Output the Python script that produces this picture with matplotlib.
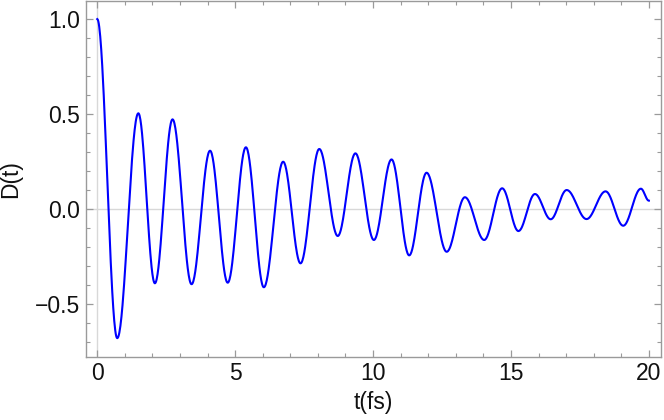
import matplotlib
matplotlib.use("Agg")
import matplotlib.pyplot as plt
import numpy as np
from matplotlib.ticker import MultipleLocator

plt.rcParams.update({"font.family": ["Liberation Sans", "DejaVu Sans"]})

# turning points of D(t) (t in fs), plus the end point
t_ext = [0.00, 0.725, 1.49, 2.09, 2.73, 3.42, 4.09, 4.73, 5.39, 6.04,
         6.74, 7.37, 8.05, 8.72, 9.36, 10.03, 10.67, 11.31, 11.94, 12.67,
         13.33, 14.03, 14.68, 15.27, 15.87, 16.44, 17.02, 17.74, 18.43,
         19.07, 19.71, 20.00]
d_ext = [1.000, -0.680, 0.504, -0.391, 0.472, -0.396, 0.307, -0.388,
         0.325, -0.412, 0.249, -0.286, 0.316, -0.142, 0.293, -0.163,
         0.261, -0.244, 0.191, -0.225, 0.062, -0.163, 0.109, -0.116,
         0.079, -0.054, 0.100, -0.053, 0.093, -0.088, 0.107, 0.044]

FRAME = "#9a9a9a"
LINE = "#0000ff"
TXT = "#111111"

# smooth half-cosine stroke between neighbouring turning points
tt, dd = [], []
for i in range(len(t_ext) - 1):
    s = np.linspace(0, 1, 40, endpoint=False)
    tt.append(t_ext[i] + s * (t_ext[i + 1] - t_ext[i]))
    dd.append(d_ext[i] + (d_ext[i + 1] - d_ext[i]) * (1 - np.cos(np.pi * s)) / 2)
tt.append([t_ext[-1]])
dd.append([d_ext[-1]])
tt = np.concatenate(tt)
dd = np.concatenate(dd)

fig = plt.figure(figsize=(6.64, 4.2), dpi=100)
ax = fig.add_axes([0.129, 0.151, 0.8665, 0.8465])

ax.axhline(0, color="#d8d8d8", lw=1.0, zorder=1)
ax.axvline(0, color="#d8d8d8", lw=1.0, zorder=1)
ax.plot(tt, dd, color=LINE, lw=1.5, zorder=3)

ax.set_xlim(-0.42, 20.44)
ax.set_ylim(-0.777, 1.095)

ax.xaxis.set_major_locator(MultipleLocator(5))
ax.xaxis.set_minor_locator(MultipleLocator(1))
ax.yaxis.set_major_locator(MultipleLocator(0.5))
ax.yaxis.set_minor_locator(MultipleLocator(0.1))
ax.set_yticks([-0.5, 0.0, 0.5, 1.0])
ax.set_yticklabels(["\u22120.5", "0.0", "0.5", "1.0"])

for sp in ax.spines.values():
    sp.set_color(FRAME)
    sp.set_linewidth(1.0)
ax.tick_params(which="both", direction="in", top=True, right=True,
               color=FRAME, labelsize=16.5, labelcolor=TXT)
ax.tick_params(which="major", length=5, width=0.9, pad=4)
ax.tick_params(which="minor", length=3, width=0.8)

ax.set_xlabel("t(fs)", fontsize=16.5, color=TXT, labelpad=4)
ax.set_ylabel("D(t)", fontsize=16.5, color=TXT, labelpad=9)

fig.savefig("out.png", dpi=100, facecolor="white")
